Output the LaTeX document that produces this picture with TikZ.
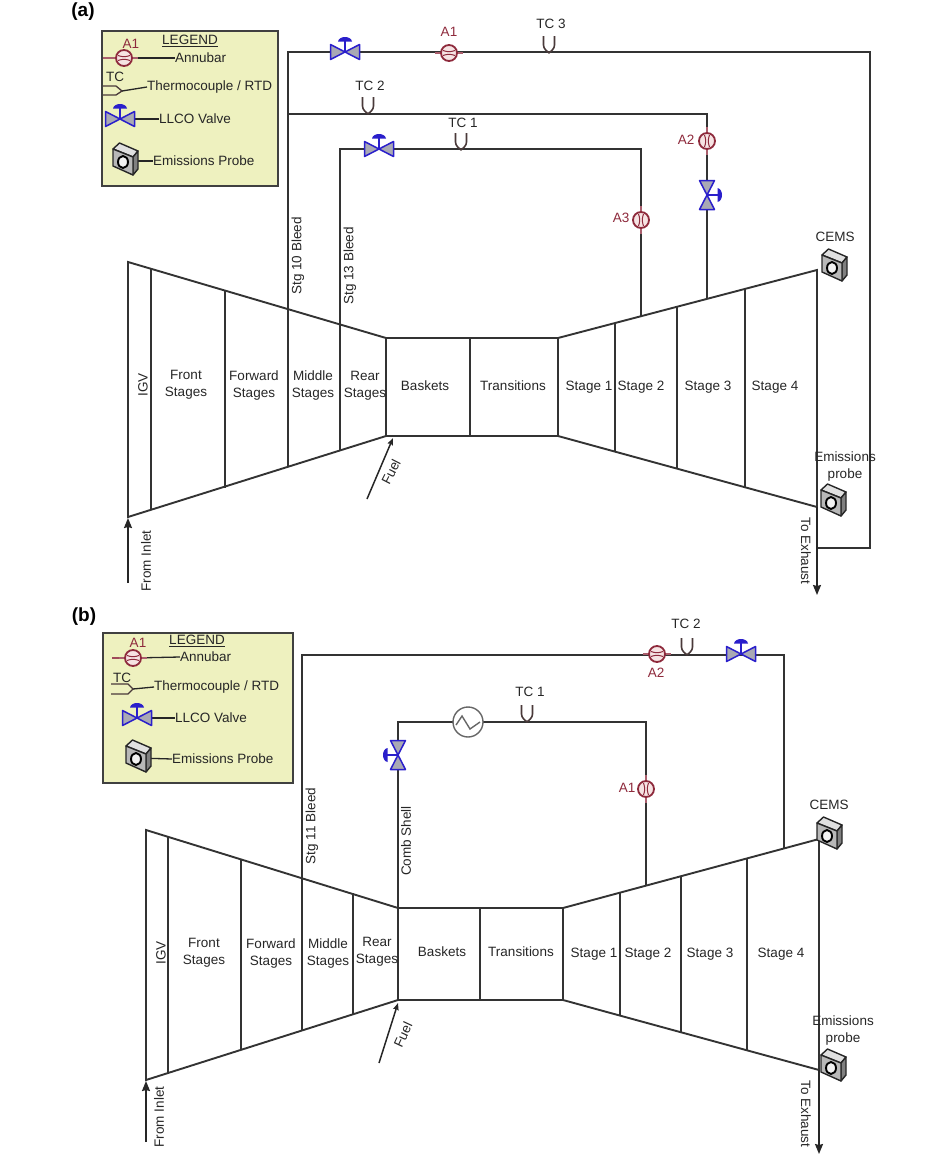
\documentclass[tikz,border=0pt]{standalone}
\usepackage{xcolor}
\usepackage{fontspec}
\setmainfont{Liberation Sans}
\usetikzlibrary{arrows.meta}
\usetikzlibrary{positioning}

\definecolor{wall}{HTML}{333333}
\definecolor{legendbg}{HTML}{EEF1BF}
\definecolor{valveblue}{HTML}{2A1FCB}
\definecolor{valvefill}{HTML}{A9A9B4}
\definecolor{annured}{HTML}{8E2A3C}
\definecolor{annupink}{HTML}{F6E3E3}
\definecolor{tcbrown}{HTML}{4A3A3A}

\tikzset{
	wallline/.style={draw=wall, line width=1.9pt},
	pipe/.style={draw=wall, line width=1.8pt},
	lead/.style={draw=black!85, line width=1.3pt},
	flow/.style={draw=black!85, line width=1.6pt, -{Stealth[length=10pt,width=8pt,inset=1pt]}},
	fuelflow/.style={draw=black!85, line width=1.5pt, -{Stealth[length=7pt,width=5.5pt,inset=1pt]}},
	lbl/.style={inner sep=0pt, align=center, text=black!85, font=\fontsize{13.5}{17}\selectfont},
	redlbl/.style={lbl, text=annured},
	panellbl/.style={inner sep=0pt, font=\fontsize{19}{22}\selectfont\bfseries},
	legendbox/.style={draw=black!75, fill=legendbg, line width=2pt},
	valve/.pic={
		\draw[valveblue, fill=valvefill, line width=1.5pt, line join=round] (-14.5,-7.5) -- (0,0) -- (-14.5,7.5) -- cycle;
		\draw[valveblue, fill=valvefill, line width=1.5pt, line join=round] (14.5,-7.5) -- (0,0) -- (14.5,7.5) -- cycle;
		\draw[valveblue, line width=1.5pt] (0,0) -- (0,-11);
		\fill[valveblue] (-7,-10.5) .. controls (-6,-16.5) and (6,-16.5) .. (7,-10.5) -- cycle;
	},
	annubar/.pic={
		\draw[annured!75, line width=1.1pt] (-14,0) -- (14,0);
		\draw[annured, fill=annupink, line width=1.8pt] (0,0) circle (8);
		\draw[annured, line width=1pt] (-6,-2.5) to[bend right=20] (6,-2.5);
		\draw[annured, line width=1pt] (-6,2.5) to[bend left=20] (6,2.5);
	},
	thermo/.pic={
		\draw[tcbrown, line width=1.6pt, line join=round] (-5.5,-17) -- (-5.5,-8) .. controls (-5.5,-4) and (-2,-2) .. (0,0) .. controls (2,-2) and (5.5,-4) .. (5.5,-8) -- (5.5,-17);
	},
	probe/.pic={
		\draw[black!85, fill=black!12, line width=1.4pt, line join=round] (-12,-9) -- (-5.5,-15) -- (13,-7) -- (8,-1) -- cycle;
		\draw[black!85, fill=black!50, line width=1.4pt, line join=round] (8,-1) -- (13,-7) -- (13,11) -- (8,17) -- cycle;
		\draw[black!85, fill=black!28, line width=1.4pt, line join=round] (-12,-9) -- (8,-1) -- (8,17) -- (-12,8) -- cycle;
		\draw[black, fill=black!5, line width=1.9pt] (-2,4) ellipse (5 and 6);
	},
	heater/.pic={
		\draw[black!60, fill=white, line width=1.4pt] (0,0) circle (15);
		\draw[black!60, line width=1.4pt] (-12,3) -- (-6,-6) -- (2,7) -- (12,0);
	}
}

\begin{document}
\begin{tikzpicture}[x=1pt, y=-1pt]

	\useasboundingbox (0,0) rectangle (950,1154);

	\node[panellbl] (panelA) at (83,12) {(a)};
	\node[panellbl] (panelB) at (84,617) {(b)};

	% ---- top engine ----
	\coordinate (a10) at (288,311);
	\coordinate (a10up) at (288,52);
	\coordinate (aTopR) at (870,52);
	\coordinate (aExhR) at (870,548);
	\coordinate (aExh) at (817,548);
	\coordinate (a10mid) at (288,114);
	\coordinate (aMidR) at (707,114);
	\coordinate (aMidEnd) at (707,299);
	\coordinate (a13) at (340,326);
	\coordinate (a13up) at (340,149);
	\coordinate (a13R) at (641,149);
	\coordinate (a13End) at (641,316);

	\draw[pipe] (a10) -- (a10up) -- (aTopR) -- (aExhR) -- (aExh);
	\draw[pipe] (a10mid) -- (aMidR) -- (aMidEnd);
	\draw[pipe] (a13) -- (a13up) -- (a13R) -- (a13End);

	\draw[wallline] (128,517) -- (128,262) -- (386,338) -- (558,338) -- (817,270) -- (817,507) -- (558,436) -- (386,436) -- cycle;
	\draw[wallline] (386,338) -- (386,436);
	\foreach \x/\t/\b in {151/269/510, 225/291/488, 288/311/466, 340/326/450, 470/338/436, 558/338/436, 615/323/452, 677/307/468, 745/289/488}
		{
			\draw[wallline] (\x,\t) -- (\x,\b);
		}

	\coordinate (aIn) at (128,583);
	\coordinate (aInEnd) at (128,518);
	\coordinate (aOut) at (817,507);
	\coordinate (aOutEnd) at (817,595);
	\coordinate (aFuel) at (367,499);
	\coordinate (aFuelEnd) at (393,438);
	\draw[flow] (aIn) -- (aInEnd);
	\draw[flow] (aOut) -- (aOutEnd);
	\draw[fuelflow] (aFuel) -- (aFuelEnd);

	\node[lbl, rotate=90] (aIgv) at (143,385) {IGV};
	\node[lbl] (aFront) at (186,385) {Front\\Stages};
	\node[lbl] (aForward) at (254,386) {Forward\\Stages};
	\node[lbl] (aMiddle) at (313,386) {Middle\\Stages};
	\node[lbl] (aRear) at (365,386) {Rear\\Stages};
	\node[lbl] (aBaskets) at (425,386) {Baskets};
	\node[lbl] (aTrans) at (513,386) {Transitions};
	\node[lbl] (aS1) at (589,387) {Stage 1};
	\node[lbl] (aS2) at (641,387) {Stage 2};
	\node[lbl] (aS3) at (708,387) {Stage 3};
	\node[lbl] (aS4) at (775,387) {Stage 4};
	\node[lbl, rotate=90] (aStg10) at (298,256) {Stg 10 Bleed};
	\node[lbl, rotate=90] (aStg13) at (350,266) {Stg 13 Bleed};
	\node[lbl, rotate=90] (aInlet) at (146,561) {From Inlet};
	\node[lbl, rotate=-90] (aExhaust) at (806,551) {To Exhaust};
	\node[lbl, rotate=63] (aFuelLbl) at (391,472) {Fuel};
	\node[lbl] (aCems) at (835,237) {CEMS};
	\node[lbl] (aEmis) at (845,467) {Emissions\\probe};

	\pic at (345,52) {valve};
	\pic at (449,53) {annubar};
	\pic at (549,53) {thermo};
	\pic at (368,114) {thermo};
	\pic at (379,149) {valve};
	\pic at (461,150) {thermo};
	\pic[rotate=90] at (641,220) {annubar};
	\pic[rotate=90] at (707,141) {annubar};
	\pic[rotate=-90] at (707,195) {valve};
	\pic at (834,264) {probe};
	\pic at (833,499) {probe};

	\node[redlbl] (aA1) at (449,32) {A1};
	\node[lbl] (aTc3) at (551,24) {TC 3};
	\node[lbl] (aTc2) at (370,86) {TC 2};
	\node[lbl] (aTc1) at (463,123) {TC 1};
	\node[redlbl] (aA3) at (621,218) {A3};
	\node[redlbl] (aA2) at (686,140) {A2};

	% legend
	\draw[legendbox] (102,31) rectangle (278,186);
	\node[lbl] (aLeg) at (190,41) {\underline{LEGEND}};
	\node[redlbl] (aLegA1) at (131,44) {A1};
	\node[lbl] (aLegTc) at (115,77) {TC};
	\node[lbl, anchor=west] (aLegAnn) at (175,58) {Annubar};
	\node[lbl, anchor=west] (aLegTh) at (147,87) {Thermocouple / RTD};
	\node[lbl, anchor=west] (aLegVa) at (159,119) {LLCO Valve};
	\node[lbl, anchor=west] (aLegPr) at (153,161) {Emissions Probe};
	\coordinate (aFork) at (122,91);
	\draw[annured!75, line width=1.1pt] (103,58) -- (124,58);
	\draw[lead] (124,58) -- (aLegAnn.west);
	\draw[tcbrown, line width=1.3pt] (103,86) -- (116,86) -- (aFork) -- (116,95) -- (103,95);
	\draw[lead] (aFork) -- (aLegTh.west);
	\draw[lead] (120,119) -- (aLegVa.west);
	\draw[lead] (126,161) -- (aLegPr.west);
	\pic at (124,58) {annubar};
	\pic at (120,119) {valve};
	\pic at (125,158) {probe};

	% ---- bottom engine ----
	\coordinate (b11) at (302,877);
	\coordinate (b11up) at (302,655);
	\coordinate (bTopR) at (784,655);
	\coordinate (bTopEnd) at (784,848);
	\coordinate (bComb) at (398,908);
	\coordinate (bCombUp) at (398,722);
	\coordinate (bCombR) at (646,722);
	\coordinate (bCombEnd) at (646,885);

	\draw[pipe] (b11) -- (b11up) -- (bTopR) -- (bTopEnd);
	\draw[pipe] (bComb) -- (bCombUp) -- (bCombR) -- (bCombEnd);

	\draw[wallline] (146,1080) -- (146,830) -- (398,908) -- (563,908) -- (819,839) -- (819,1070) -- (563,1000) -- (398,1000) -- cycle;
	\foreach \x/\t/\b in {168/837/1073, 241/859/1050, 302/877/1031, 353/893/1015, 398/908/1000, 480/908/1000, 563/908/1000, 620/893/1015, 681/876/1032, 747/858/1050}
		{
			\draw[wallline] (\x,\t) -- (\x,\b);
		}

	\coordinate (bIn) at (146,1142);
	\coordinate (bInEnd) at (146,1081);
	\coordinate (bOut) at (819,1070);
	\coordinate (bOutEnd) at (819,1154);
	\coordinate (bFuel) at (379,1063);
	\coordinate (bFuelEnd) at (398,1003);
	\draw[flow] (bIn) -- (bInEnd);
	\draw[flow] (bOut) -- (bOutEnd);
	\draw[fuelflow] (bFuel) -- (bFuelEnd);

	\node[lbl, rotate=90] (bIgv) at (161,953) {IGV};
	\node[lbl] (bFront) at (204,953) {Front\\Stages};
	\node[lbl] (bForward) at (271,953) {Forward\\Stages};
	\node[lbl] (bMiddle) at (328,953) {Middle\\Stages};
	\node[lbl] (bRear) at (377,952) {Rear\\Stages};
	\node[lbl] (bBaskets) at (442,952) {Baskets};
	\node[lbl] (bTrans) at (521,952) {Transitions};
	\node[lbl] (bS1) at (594,954) {Stage 1};
	\node[lbl] (bS2) at (648,954) {Stage 2};
	\node[lbl] (bS3) at (710,954) {Stage 3};
	\node[lbl] (bS4) at (781,954) {Stage 4};
	\node[lbl, rotate=90] (bStg11) at (312,826) {Stg 11 Bleed};
	\node[lbl, rotate=90] (bCombLbl) at (406,841) {Comb Shell};
	\node[lbl, rotate=90] (bInlet) at (159,1117) {From Inlet};
	\node[lbl, rotate=-90] (bExhaust) at (806,1114) {To Exhaust};
	\node[lbl, rotate=65] (bFuelLbl) at (403,1035) {Fuel};
	\node[lbl] (bCems) at (829,805) {CEMS};
	\node[lbl] (bEmis) at (843,1030) {Emissions\\probe};

	\pic at (741,654) {valve};
	\pic at (657,654) {annubar};
	\pic at (687,655) {thermo};
	\pic at (468,722) {heater};
	\pic at (527,722) {thermo};
	\pic[rotate=90] at (646,789) {annubar};
	\pic[rotate=90] at (398,755) {valve};
	\pic at (829,832) {probe};
	\pic at (833,1064) {probe};

	\node[redlbl] (bA2) at (656,673) {A2};
	\node[lbl] (bTc2) at (686,624) {TC 2};
	\node[lbl] (bTc1) at (530,692) {TC 1};
	\node[redlbl] (bA1) at (627,788) {A1};

	% legend
	\draw[legendbox] (103,633) rectangle (293,783);
	\node[lbl] (bLeg) at (197,641) {\underline{LEGEND}};
	\node[redlbl] (bLegA1) at (138,643) {A1};
	\node[lbl] (bLegTc) at (122,678) {TC};
	\node[lbl, anchor=west] (bLegAnn) at (180,657) {Annubar};
	\node[lbl, anchor=west] (bLegTh) at (154,687) {Thermocouple / RTD};
	\node[lbl, anchor=west] (bLegVa) at (175,718) {LLCO Valve};
	\node[lbl, anchor=west] (bLegPr) at (172,759) {Emissions Probe};
	\coordinate (bFork) at (133,689);
	\draw[annured!85, line width=1.1pt] (112,658) -- (133,658);
	\draw[lead] (133,658) -- (bLegAnn.west);
	\draw[tcbrown, line width=1.3pt] (111,684) -- (128,684) -- (bFork) -- (128,694) -- (111,694);
	\draw[lead] (bFork) -- (bLegTh.west);
	\draw[lead] (137,718) -- (bLegVa.west);
	\draw[lead] (138,758) -- (bLegPr.west);
	\pic at (133,658) {annubar};
	\pic at (137,718) {valve};
	\pic at (138,755) {probe};

\end{tikzpicture}
\end{document}
